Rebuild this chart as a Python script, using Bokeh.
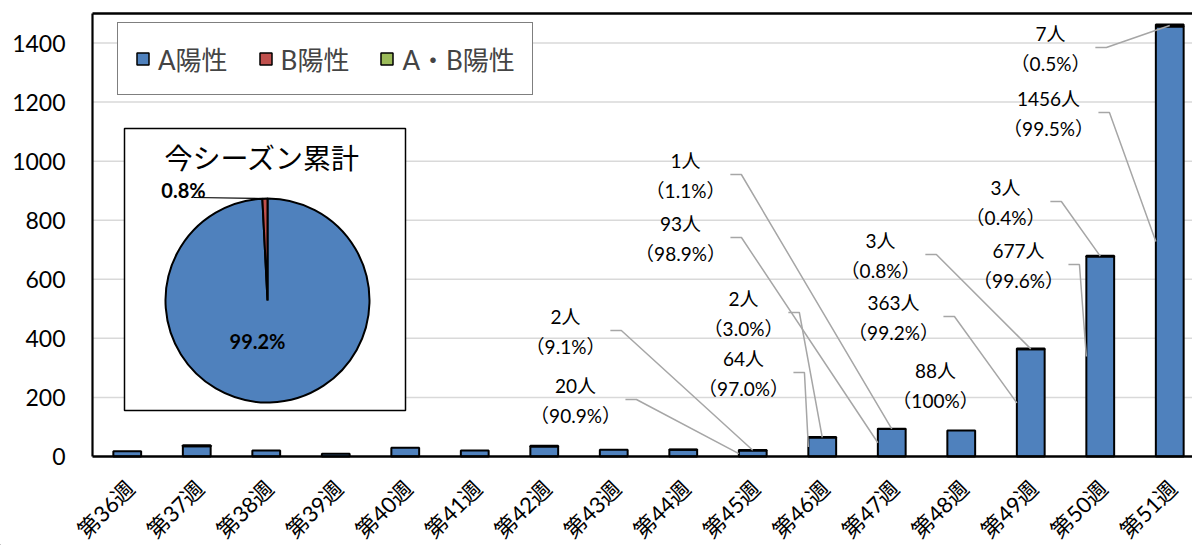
import math
from bokeh.plotting import figure
from bokeh.models import (Range1d, ColumnDataSource, CDSView, BooleanFilter,
                          Legend, LegendItem)
from bokeh.core.properties import value
from bokeh.embed import file_html
from bokeh.resources import INLINE

# ---------------- data ----------------
weeks = ["第36週", "第37週", "第38週", "第39週", "第40週", "第41週", "第42週", "第43週",
         "第44週", "第45週", "第46週", "第47週", "第48週", "第49週", "第50週", "第51週"]
a_pos = [18, 35, 20, 9, 30, 20, 34, 23, 23, 20, 64, 93, 88, 363, 677, 1456]
b_pos = [0, 3, 0, 0, 0, 0, 2, 0, 1, 2, 2, 1, 0, 3, 3, 7]
ab_pos = [0, 0, 0, 0, 0, 0, 0, 0, 0, 0, 0, 0, 0, 0, 0, 0]
series_names = ["A陽性", "B陽性", "A・B陽性"]
pie_title = "今シーズン累計"
y_ticks = [0, 200, 400, 600, 800, 1000, 1200, 1400]
y_top = 1500

# ---------------- style / layout ----------------
FONT = "Lato, 'Noto Sans CJK JP'"
CJK = "Noto Sans CJK JP"
C_A, C_B, C_AB = "#4f81bd", "#c0504d", "#9bbb59"
W, H = 1192, 545
AXIS_X_PX = 92          # canvas px of the value axis (left edge of first category)
CAT_PX = 69.5           # px per category
Y0PX, YTOPPX = 456, 13  # canvas px of value 0 and of the plot-area top
UNITS_PER_PX = y_top / (Y0PX - YTOPPX)


def dx(px):
    return -0.5 + (px - AXIS_X_PX) / CAT_PX


def dy(py):
    return (Y0PX - py) * UNITS_PER_PX


XR = (dx(0), dx(W))
YR = (dy(H), dy(0))
X_LEFT, X_RIGHT = -0.5, XR[1]

p = figure(width=W, height=H, output_backend="svg", toolbar_location=None,
           x_range=Range1d(*XR), y_range=Range1d(*YR),
           x_axis_location=None, y_axis_location=None,
           min_border_left=0, min_border_right=0, min_border_top=0, min_border_bottom=0)
p.outline_line_color = None
p.background_fill_color = "white"
p.border_fill_color = "white"
p.xgrid.visible = False
p.ygrid.visible = False

# gridlines
gt = y_ticks[1:]
p.segment(x0=[X_LEFT] * len(gt), y0=gt, x1=[X_RIGHT] * len(gt), y1=gt,
          line_color="#d9d9d9", line_width=1.5)

# value-axis labels
p.text(x=[dx(65)] * len(y_ticks), y=y_ticks, text=[str(t) for t in y_ticks],
       text_font=value(FONT), text_font_size="23px", text_align="right",
       text_baseline="middle", text_color="black")

# ---------------- bars ----------------
idx = list(range(len(weeks)))
b_bot = a_pos
b_top = [a + b for a, b in zip(a_pos, b_pos)]
ab_top = [t + c for t, c in zip(b_top, ab_pos)]
src = ColumnDataSource(dict(x=idx, a_top=a_pos, b_bot=b_bot, b_top=b_top, ab_top=ab_top))
BW = 0.4
bar_style = dict(width=BW, line_color="black", line_width=2)
rA = p.vbar(x="x", bottom=0, top="a_top", source=src, fill_color=C_A, **bar_style)
rB = p.vbar(x="x", bottom="b_bot", top="b_top", source=src,
            view=CDSView(filter=BooleanFilter([b > 0 for b in b_pos])),
            fill_color=C_B, **bar_style)
rAB = p.vbar(x="x", bottom="b_top", top="ab_top", source=src,
             view=CDSView(filter=BooleanFilter([c > 0 for c in ab_pos])),
             fill_color=C_AB, **bar_style)

# plot-area lines: value axis, category axis, top border
p.segment(x0=[X_LEFT, X_LEFT, X_LEFT], y0=[0, 0, y_top],
          x1=[X_LEFT, X_RIGHT, X_RIGHT], y1=[y_top, 0, y_top],
          line_color="black", line_width=[2.2, 2.5, 2.5])

# category labels, rotated 45 degrees
p.text(x=idx, y=[dy(484)] * len(weeks), text=weeks, x_offset=3, angle=math.pi / 4,
       text_font=value(FONT), text_font_size="22px", text_align="right",
       text_baseline="middle", text_color="black")

# legend proxies (placed far outside the visible canvas)
proxy = ColumnDataSource(dict(x=[XR[0] - 50], bottom=[YR[0] - 5000], top=[YR[0] - 4990]))
leg_style = dict(width=BW, line_color="black", line_width=1.5)
pA = p.vbar(x="x", bottom="bottom", top="top", source=proxy, fill_color=C_A, **leg_style)
pB = p.vbar(x="x", bottom="bottom", top="top", source=proxy, fill_color=C_B, **leg_style)
pAB = p.vbar(x="x", bottom="bottom", top="top", source=proxy, fill_color=C_AB, **leg_style)

# legend box: left 117 px, bottom 95 px from the top of the canvas
legend = Legend(items=[LegendItem(label=series_names[0], renderers=[pA]),
                       LegendItem(label=series_names[1], renderers=[pB]),
                       LegendItem(label=series_names[2], renderers=[pAB])],
                location=(117, H - 95), orientation="horizontal")
legend.label_text_font = FONT
legend.label_text_font_size = "26px"
legend.label_height = 28
legend.glyph_width = 15
legend.glyph_height = 15
legend.label_standoff = 8
legend.spacing = 30
legend.padding = 17
legend.margin = 0
legend.border_line_color = "black"
legend.border_line_width = 1.5
legend.background_fill_alpha = 1
p.add_layout(legend)


# ---------------- data labels with leader lines ----------------
def pct_text(v, tot):
    pc = v / tot * 100
    if abs(pc - 100) < 1e-9:
        return "（100%）"
    return "（%.1f%%）" % pc


# (week index, series, label centre px x, first-line px y, leader?)
label_layout = [
    (9, "B", 565, 316, True), (9, "A", 575, 385, True),
    (10, "B", 743, 298, True), (10, "A", 743, 358, True),
    (11, "B", 685, 160, True), (11, "A", 680, 223, True),
    (12, "A", 935, 370, False),
    (13, "B", 880, 240, True), (13, "A", 893, 302, True),
    (14, "B", 1005, 187, True), (14, "A", 1018, 250, True),
    (15, "B", 1050, 33, True), (15, "A", 1048, 98, True),
]
lx, ly1, ly2, t1, t2 = [], [], [], [], []
lxs, lys = [], []
for i, s, cx, cy, lead in label_layout:
    tot = a_pos[i] + b_pos[i] + ab_pos[i]
    v = a_pos[i] if s == "A" else b_pos[i]
    pt = pct_text(v, tot)
    lx.append(dx(cx)); ly1.append(dy(cy)); ly2.append(dy(cy + 30))
    t1.append("%d人" % v); t2.append(pt)
    if lead:
        half = 0.5 * 18.5 * (2 + 0.55 * (len(pt) - 2)) + 6
        sx = cx + half
        if s == "A":
            ex, ey = i - BW / 2, a_pos[i] / 2
        else:
            ex, ey = i, a_pos[i] + b_pos[i] / 2
        lxs.append([dx(sx), dx(sx + 11), ex])
        lys.append([dy(cy + 14), dy(cy + 14), ey])

p.multi_line(xs=lxs, ys=lys, line_color="#a6a6a6", line_width=1.5)
p.text(x=lx, y=ly1, text=t1, text_font=value(FONT), text_font_size="19px",
       text_align="center", text_baseline="middle", text_color="black")
p.text(x=lx, y=ly2, text=t2, text_font=value(FONT), text_font_size="19px",
       text_align="center", text_baseline="middle", text_color="black")

# ---------------- inset pie ----------------
sum_a = sum(a_pos)
sum_b = sum(b_pos)
sum_ab = sum(ab_pos)
total = sum_a + sum_b + sum_ab
p.quad(left=dx(124), right=dx(405), top=dy(128), bottom=dy(410),
       fill_color="white", line_color="black", line_width=1.5)
p.text(x=[dx(262)], y=[dy(156)], text=[pie_title], text_font=value(CJK),
       text_font_size="28px", text_align="center", text_baseline="middle", text_color="black")
PCX, PCY, PR = 267, 300, 102
fr_a = sum_a / total
fr_b = sum_b / total
start_a = math.pi / 2
end_a = start_a - 2 * math.pi * fr_a
end_b = end_a - 2 * math.pi * fr_b
p.wedge(x=[dx(PCX), dx(PCX)], y=[dy(PCY), dy(PCY)], radius=PR, radius_units="screen",
        start_angle=[start_a, end_a], end_angle=[end_a, end_b], direction="clock",
        fill_color=[C_A, C_B], line_color="black", line_width=2)
mid_b = (end_a + end_b) / 2
ex_px = PCX + PR * math.cos(mid_b)
ey_px = PCY - PR * math.sin(mid_b)
p.line(x=[dx(193), dx(ex_px)], y=[dy(197), dy(ey_px)], line_color="black", line_width=1.2)
p.text(x=[dx(183), dx(257)], y=[dy(189), dy(340)],
       text=["%.1f%%" % (fr_b * 100), "%.1f%%" % (fr_a * 100)],
       text_font=value(FONT), text_font_size="20px", text_font_style="bold",
       text_align="center", text_baseline="middle", text_color="black")

open("out.html", "w").write(file_html(p, INLINE))
